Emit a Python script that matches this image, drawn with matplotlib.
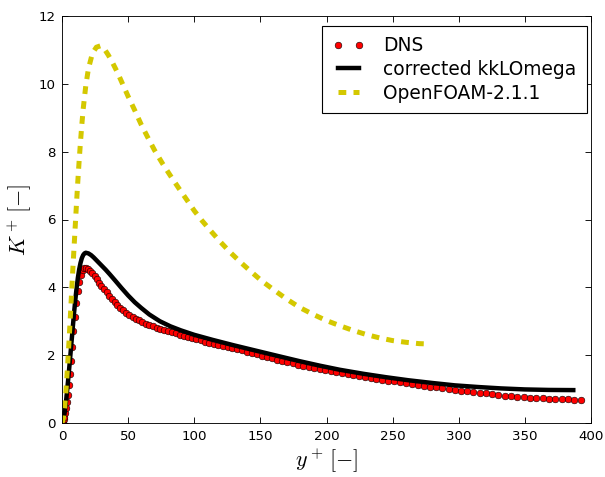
import matplotlib
matplotlib.use("Agg")
import matplotlib.pyplot as plt

plt.rcParams["mathtext.fontset"] = "cm"
plt.rcParams["lines.scale_dashes"] = False

# DNS (Re_tau ~ 392)
dns_y = [0.0, 0.03, 0.12, 0.27, 0.47, 0.74, 1.06, 1.45, 1.89, 2.39, 2.95, 3.57, 4.25, 4.98,
         5.78, 6.63, 7.54, 8.51, 9.53, 10.61, 11.76, 12.95, 14.21, 15.52, 16.89, 18.31,
         19.80, 21.33, 22.93, 24.58, 26.28, 28.04, 29.86, 31.73, 33.65, 35.63, 37.66,
         39.74, 41.88, 44.07, 46.32, 48.61, 50.96, 53.36, 55.80, 58.30, 60.85, 63.45,
         66.10, 68.80, 71.55, 74.35, 77.19, 80.08, 83.02, 86.00, 89.04, 92.11, 95.23,
         98.40, 101.61, 104.86, 108.16, 111.50, 114.88, 118.31, 121.78, 125.28, 128.83,
         132.42, 136.04, 139.70, 143.41, 147.15, 150.92, 154.74, 158.58, 162.47, 166.39,
         170.34, 174.32, 178.34, 182.39, 186.48, 190.59, 194.73, 198.91, 203.11, 207.34,
         211.60, 215.89, 220.20, 224.54, 228.90, 233.29, 237.70, 242.14, 246.60, 251.08,
         255.58, 260.10, 264.64, 269.20, 273.78, 278.38, 282.99, 287.63, 292.27, 296.93,
         301.61, 306.30, 311.00, 315.72, 320.45, 325.18, 329.93, 334.69, 339.45, 344.23,
         349.01, 353.79, 358.59, 363.39, 368.19, 372.99, 377.80, 382.61, 387.43, 392.24]
dns_k = [0.0, 0.0, 0.001, 0.004, 0.012, 0.03, 0.06, 0.11, 0.19, 0.29, 0.43, 0.61, 0.84, 1.12,
         1.45, 1.83, 2.25, 2.70, 3.13, 3.53, 3.88, 4.16, 4.37, 4.50, 4.56, 4.56,
         4.53, 4.48, 4.41, 4.33, 4.24, 4.14, 4.04, 3.95, 3.85, 3.75, 3.65,
         3.56, 3.48, 3.39, 3.32, 3.25, 3.19, 3.13, 3.07, 3.03, 2.98, 2.93,
         2.89, 2.85, 2.81, 2.78, 2.74, 2.71, 2.67, 2.64, 2.60, 2.57, 2.54,
         2.50, 2.47, 2.44, 2.40, 2.37, 2.34, 2.30, 2.27, 2.24, 2.20,
         2.17, 2.14, 2.10, 2.06, 2.03, 1.99, 1.95, 1.91, 1.87, 1.83,
         1.79, 1.76, 1.72, 1.69, 1.65, 1.62, 1.59, 1.56, 1.53, 1.50,
         1.47, 1.44, 1.42, 1.39, 1.36, 1.33, 1.31, 1.28, 1.25, 1.23,
         1.20, 1.17, 1.15, 1.12, 1.10, 1.07, 1.05, 1.02, 1.00, 0.97,
         0.95, 0.93, 0.91, 0.89, 0.87, 0.85, 0.83, 0.81, 0.79, 0.78,
         0.76, 0.75, 0.74, 0.73, 0.72, 0.71, 0.70, 0.70, 0.69, 0.69]

# corrected kkLOmega
kkl_y = [0, 1, 2, 3, 4, 5, 6, 7, 8, 9, 10, 11, 12, 13, 14, 15, 16, 17, 18, 20, 22, 24, 26,
         28, 30, 33, 36, 40, 45, 50, 55, 60, 66, 74, 82, 90, 100, 114, 130, 148, 165, 180,
         195, 210, 228, 245, 262, 280, 297, 315, 332, 350, 368, 386.6]
kkl_k = [0, 0.08, 0.30, 0.62, 1.00, 1.42, 1.85, 2.30, 2.75, 3.20, 3.60, 3.97, 4.28, 4.53,
         4.72, 4.86, 4.95, 5.00, 5.02, 5.00, 4.95, 4.88, 4.80, 4.72, 4.64, 4.52, 4.39, 4.21,
         3.98, 3.76, 3.56, 3.39, 3.20, 3.00, 2.85, 2.73, 2.60, 2.45, 2.29, 2.12, 1.96, 1.82,
         1.69, 1.57, 1.45, 1.35, 1.26, 1.18, 1.11, 1.06, 1.02, 0.99, 0.975, 0.97]

# OpenFOAM-2.1.1
of_y = [0, 1, 2, 3, 4, 5, 6, 7, 8, 9, 10, 11, 12, 13, 14, 15, 16, 18, 20, 23, 26, 29, 32,
        35, 38, 42, 46, 50, 55, 60, 65, 70, 76, 82, 88, 94, 100, 106, 113, 120, 127, 135,
        143, 151, 160, 170, 180, 190, 200, 210, 220, 230, 240, 250, 260, 270, 278]
of_k = [0, 0.12, 0.45, 0.95, 1.55, 2.20, 2.90, 3.65, 4.40, 5.10, 5.80, 6.50, 7.15, 7.75,
        8.30, 8.80, 9.25, 9.95, 10.45, 10.90, 11.08, 11.12, 11.03, 10.85, 10.64, 10.33,
        9.98, 9.63, 9.22, 8.79, 8.41, 8.04, 7.65, 7.29, 6.94, 6.60, 6.26, 5.96, 5.64, 5.33,
        5.04, 4.74, 4.46, 4.19, 3.93, 3.65, 3.40, 3.20, 3.02, 2.87, 2.73, 2.61, 2.51, 2.43,
        2.38, 2.34, 2.33]

fig = plt.figure(figsize=(605 / 80, 477 / 80), dpi=80, facecolor="white")
ax = fig.add_axes([62 / 605, 54 / 477, 529 / 605, 407 / 477])

ax.plot(dns_y, dns_k, "o", color="red", markersize=6, markeredgecolor="black",
        markeredgewidth=0.5, label="DNS")
ax.plot(kkl_y, kkl_k, "-", color="black", linewidth=4, label="corrected kkLOmega")
ax.plot(of_y, of_k, "--", color="#d4c800", linewidth=4.5, dashes=(7, 6.5),
        dash_capstyle="butt", label="OpenFOAM-2.1.1")

ax.set_xlim(0, 400)
ax.set_ylim(0, 12)
ax.set_xticks(range(0, 401, 50))
ax.set_yticks(range(0, 13, 2))
ax.tick_params(direction="in", top=True, right=True, length=5, labelsize=12, pad=6)
ax.set_xlabel(r"$y^+\,[-]$", fontsize=20)
ax.set_ylabel(r"$K^+\,[-]$", fontsize=20)

leg = ax.legend(loc="upper right", bbox_to_anchor=(587 / 605, 1 - 26 / 477),
                bbox_transform=fig.transFigure, borderaxespad=0, numpoints=2,
                fontsize=16.8, handlelength=1.75, handletextpad=1.0, labelspacing=0.25,
                fancybox=False, framealpha=1, borderpad=0.55)
leg.get_frame().set_edgecolor("black")

fig.savefig("out.png", dpi=80, facecolor="white")
